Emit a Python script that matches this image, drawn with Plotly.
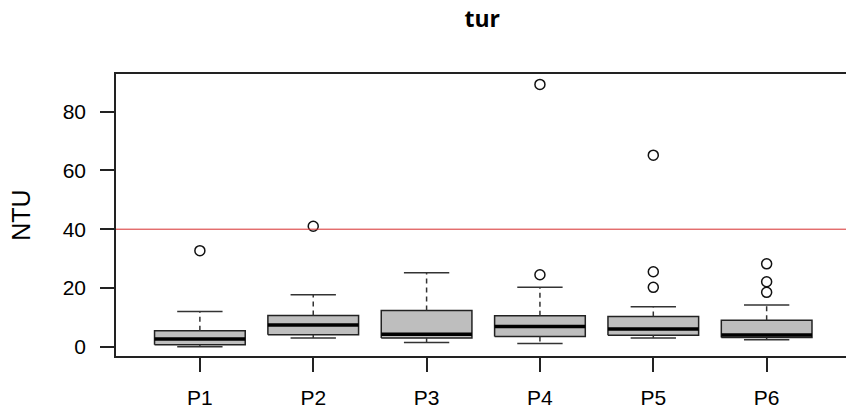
import plotly.graph_objects as go

categories = ["P1", "P2", "P3", "P4", "P5", "P6"]
lower_whisker = [0.0, 3.0, 1.4, 1.1, 3.0, 2.4]
q1 = [0.7, 4.1, 3.0, 3.5, 3.9, 3.1]
median = [2.6, 7.4, 4.2, 6.9, 6.0, 4.0]
q3 = [5.4, 10.6, 12.3, 10.5, 10.3, 9.0]
upper_whisker = [12.0, 17.7, 25.2, 20.2, 13.6, 14.2]
outliers = [[32.7], [41.0], [], [24.5, 89.3], [20.2, 25.5, 65.2], [18.5, 22.1, 28.2]]
y_ticks = [0, 20, 40, 60, 80]
ref_line = 40

HALF = 0.4
CAP = 0.2
positions = list(range(1, len(categories) + 1))

fig = go.Figure()

# boxes
bx, by = [], []
for p, a, b in zip(positions, q1, q3):
    bx += [p - HALF, p + HALF, p + HALF, p - HALF, p - HALF, None]
    by += [a, a, b, b, a, None]
fig.add_trace(go.Scatter(x=bx, y=by, mode="lines", fill="toself",
                         fillcolor="#BEBEBE", line=dict(color="#222222", width=1.5),
                         hoverinfo="skip", showlegend=False))

# whiskers (dashed)
wx, wy = [], []
for p, lo, a, b, hi in zip(positions, lower_whisker, q1, q3, upper_whisker):
    wx += [p, p, None, p, p, None]
    wy += [b, hi, None, a, lo, None]
fig.add_trace(go.Scatter(x=wx, y=wy, mode="lines",
                         line=dict(color="#333333", width=1.5, dash="5px,4px"),
                         hoverinfo="skip", showlegend=False))

# caps
cx, cy = [], []
for p, lo, hi in zip(positions, lower_whisker, upper_whisker):
    cx += [p - CAP, p + CAP, None, p - CAP, p + CAP, None]
    cy += [hi, hi, None, lo, lo, None]
fig.add_trace(go.Scatter(x=cx, y=cy, mode="lines",
                         line=dict(color="#333333", width=1.5),
                         hoverinfo="skip", showlegend=False))

# medians
mx, my = [], []
for p, m in zip(positions, median):
    mx += [p - HALF, p + HALF, None]
    my += [m, m, None]
fig.add_trace(go.Scatter(x=mx, y=my, mode="lines",
                         line=dict(color="black", width=3.5),
                         hoverinfo="skip", showlegend=False))

# outliers
ox, oy = [], []
for p, outs in zip(positions, outliers):
    for v in outs:
        ox.append(p)
        oy.append(v)
fig.add_trace(go.Scatter(x=ox, y=oy, mode="markers",
                         marker=dict(symbol="circle-open", size=10, color="#111111",
                                     line=dict(width=1.5)),
                         hoverinfo="skip", showlegend=False))

fig.add_shape(type="line", xref="paper", x0=0, x1=1, yref="y", y0=ref_line, y1=ref_line,
              line=dict(color="rgb(215,45,45)", width=1))

fig.update_layout(
    width=846, height=409,
    margin=dict(l=116, r=0, t=74, b=53),
    paper_bgcolor="white", plot_bgcolor="white",
    font=dict(family="Liberation Sans, Arial", size=21, color="black"),
    title=dict(text="<b>tur</b>", x=0.57, xanchor="center", y=0.953, yanchor="middle",
               font=dict(family="Open Sans, Liberation Sans", size=23, color="black")),
    xaxis=dict(range=[0.26, 6.70], tickmode="array", tickvals=positions, ticktext=categories,
               showgrid=False, zeroline=False, showline=True, linecolor="#222222", linewidth=1.5,
               mirror=True, ticks="outside", ticklen=14, tickwidth=1.5, tickcolor="#222222",
               ticklabelstandoff=8, automargin=False),
    yaxis=dict(range=[-3.17, 92.84], tickmode="array", tickvals=y_ticks,
               showgrid=False, zeroline=False, showline=True, linecolor="#222222", linewidth=1.5,
               ticks="outside", ticklen=14, tickwidth=1.5, tickcolor="#222222",
               title=dict(text="NTU", standoff=25), ticklabelstandoff=10, automargin=False),
)

fig.write_html("out.html", config={"displayModeBar": False},
               post_script="document.body.style.margin='0px';document.body.style.overflow='hidden';")
